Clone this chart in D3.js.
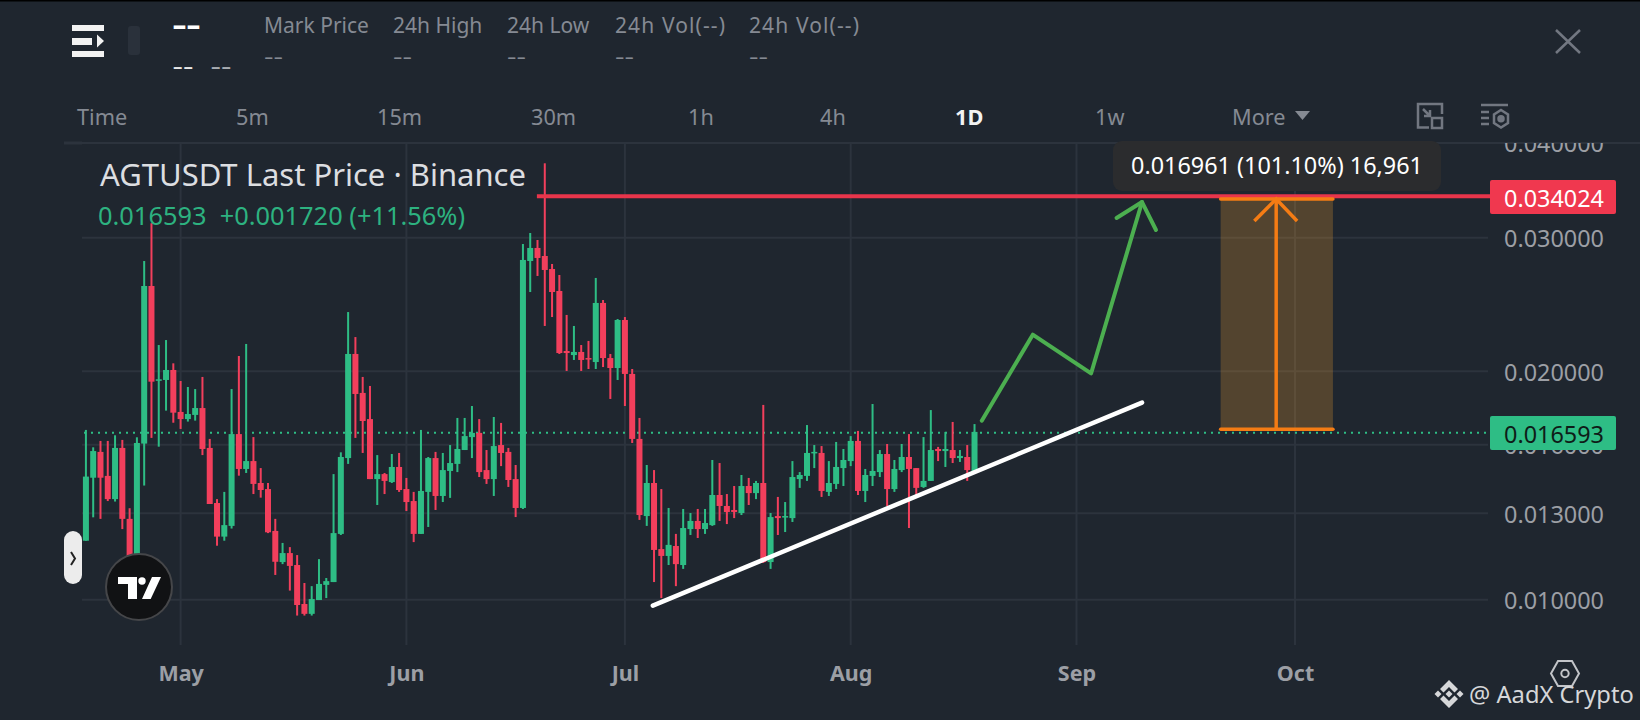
<!DOCTYPE html>
<html lang="en">
<head>
    <meta charset="UTF-8">
    <script src="https://d3js.org/d3.v7.min.js"></script>
    <title>AGTUSDT</title>
    <style>
        body { margin: 0; background: #1f262f; }
        text { font-family: "Noto Sans", sans-serif; }
    </style>
</head>
<body>
<div id="chartContainer"></div>
<script type="text/javascript">
// daily candles, first one is 18 Apr
var firstDay = Date.UTC(2025, 3, 18);
var opens = [
0.01196,0.01448,0.01566,0.01456,0.01357,0.01585,0.01278,0.01117,0.01606,0.02591,0.01944,0.01948,0.02008,0.01768,0.01730,0.01752,0.01789,0.01585,0.01341,0.01211,
0.01251,0.01653,0.01487,0.01523,0.01425,0.01399,0.01232,0.01121,0.01152,0.01111,0.00987,0.00958,0.00999,0.01046,0.01055,0.01221,0.01537,0.02108,0.01873,0.01730,
0.01442,0.01464,0.01429,0.01496,0.01399,0.01349,0.01221,0.01387,0.01537,0.01370,0.01478,0.01510,0.01575,0.01638,0.01659,0.01482,0.01442,0.01599,0.01566,0.01442,
0.01321,0.02795,0.02908,0.02838,0.02728,0.02552,0.02127,0.02101,0.02121,0.02082,0.02057,0.02461,0.02082,0.02020,0.02337,0.01984,0.01629,0.01289,0.01425,0.01166,
0.01142,0.01177,0.01111,0.01239,0.01270,0.01239,0.01254,0.01374,0.01329,0.01313,0.01301,0.01412,0.01382,0.01425,0.01121,0.01289,0.01284,0.01281,0.01442,0.01456,
0.01559,0.01561,0.01387,0.01421,0.01491,0.01523,0.01619,0.01391,0.01456,0.01473,0.01556,0.01399,0.01482,0.01542,0.01491,0.01408,0.01434,0.01580,0.01570,0.01575,
0.01537,0.01542,0.01478];
var highs = [
0.01674,0.01588,0.01619,0.01619,0.01647,0.01624,0.01320,0.01637,0.02795,0.03134,0.02166,0.02199,0.02049,0.01942,0.01907,0.01895,0.01966,0.01629,0.01357,0.01387,
0.01895,0.02095,0.02173,0.01638,0.01491,0.01425,0.01278,0.01188,0.01173,0.01145,0.01052,0.01042,0.01131,0.01068,0.01464,0.01564,0.02394,0.02219,0.01966,0.01913,
0.01551,0.01469,0.01556,0.01561,0.01447,0.01387,0.01674,0.01542,0.01566,0.01561,0.01599,0.01736,0.01736,0.01800,0.01730,0.01575,0.01741,0.01710,0.01585,0.01505,
0.02943,0.03043,0.02979,0.03760,0.02770,0.02679,0.02373,0.02295,0.02166,0.02193,0.02655,0.02483,0.02108,0.02344,0.02358,0.02014,0.01736,0.01505,0.01482,0.01399,
0.01321,0.01221,0.01317,0.01301,0.01317,0.01317,0.01528,0.01514,0.01378,0.01412,0.01460,0.01447,0.01434,0.01806,0.01301,0.01366,0.01345,0.01523,0.01473,0.01699,
0.01599,0.01594,0.01523,0.01614,0.01580,0.01643,0.01669,0.01487,0.01811,0.01575,0.01604,0.01528,0.01604,0.01653,0.01491,0.01638,0.01778,0.01590,0.01664,0.01715,
0.01575,0.01599,0.01704];
var lows = [
0.01196,0.01284,0.01278,0.01349,0.01347,0.01239,0.01105,0.01105,0.01414,0.01634,0.01591,0.01775,0.01711,0.01679,0.01717,0.01722,0.01551,0.01337,0.01178,0.01196,
0.01241,0.01457,0.01469,0.01378,0.01363,0.01224,0.01078,0.01114,0.01028,0.00953,0.00953,0.00953,0.00999,0.01005,0.01055,0.01217,0.01510,0.01634,0.01561,0.01442,
0.01333,0.01378,0.01425,0.01387,0.01309,0.01191,0.01221,0.01247,0.01313,0.01345,0.01362,0.01473,0.01575,0.01537,0.01451,0.01421,0.01370,0.01500,0.01408,0.01285,
0.01317,0.02544,0.02671,0.02295,0.02358,0.02108,0.02002,0.02070,0.02002,0.02014,0.02014,0.02026,0.01839,0.01948,0.01800,0.01609,0.01274,0.01251,0.01055,0.01005,
0.01111,0.01042,0.01098,0.01217,0.01206,0.01221,0.01251,0.01270,0.01258,0.01281,0.01293,0.01333,0.01357,0.01118,0.01098,0.01217,0.01228,0.01266,0.01404,0.01434,
0.01491,0.01366,0.01370,0.01399,0.01412,0.01500,0.01374,0.01345,0.01412,0.01451,0.01329,0.01387,0.01473,0.01243,0.01362,0.01404,0.01434,0.01523,0.01496,0.01514,
0.01519,0.01434,0.01473];
var closes = [
0.01453,0.01570,0.01448,0.01357,0.01585,0.01278,0.01117,0.01609,0.02591,0.01938,0.01952,0.02008,0.01764,0.01730,0.01757,0.01789,0.01580,0.01337,0.01211,0.01254,
0.01653,0.01487,0.01523,0.01421,0.01395,0.01227,0.01122,0.01152,0.01108,0.00984,0.00958,0.01002,0.01049,0.01058,0.01224,0.01542,0.02108,0.01867,0.01720,0.01442,
0.01464,0.01434,0.01496,0.01395,0.01345,0.01221,0.01391,0.01537,0.01370,0.01482,0.01514,0.01580,0.01643,0.01659,0.01473,0.01442,0.01594,0.01561,0.01438,0.01321,
0.02804,0.02908,0.02821,0.02720,0.02544,0.02114,0.02114,0.02121,0.02070,0.02074,0.02461,0.02082,0.02020,0.02337,0.01984,0.01629,0.01293,0.01425,0.01163,0.01142,
0.01181,0.01114,0.01243,0.01270,0.01239,0.01262,0.01374,0.01329,0.01305,0.01305,0.01412,0.01382,0.01425,0.01121,0.01285,0.01281,0.01289,0.01451,0.01460,0.01561,
0.01566,0.01391,0.01425,0.01496,0.01528,0.01619,0.01391,0.01460,0.01478,0.01556,0.01399,0.01487,0.01542,0.01487,0.01404,0.01434,0.01575,0.01570,0.01580,0.01537,
0.01547,0.01482,0.01664];

var priceTicks = [0.01, 0.013, 0.016, 0.02, 0.03, 0.04];
var monthTicks = [Date.UTC(2025,4,1), Date.UTC(2025,5,1), Date.UTC(2025,6,1), Date.UTC(2025,7,1), Date.UTC(2025,8,1), Date.UTC(2025,9,1)];
var monthLabels = ["May", "Jun", "Jul", "Aug", "Sep", "Oct"];
var intervals = ["Time", "5m", "15m", "30m", "1h", "4h", "1D", "1w", "More"];
var statNames = ["Mark Price", "24h High", "24h Low", "24h Vol(--)", "24h Vol(--)"];

var lastPrice = 0.016593, targetPrice = 0.034024;
var measureLow = 0.016776, measureHigh = 0.033737;

// hand drawn things on the chart: [time, price]
var trendLine = [[Date.UTC(2025,6,4,20), 0.00982], [Date.UTC(2025,8,10), 0.01819]];
var greenPath = [[Date.UTC(2025,7,19), 0.017216], [Date.UTC(2025,7,26), 0.02235], [Date.UTC(2025,8,3), 0.01987], [Date.UTC(2025,8,10), 0.03343]];
var greenHead = [[Date.UTC(2025,8,6,12), 0.03185], [Date.UTC(2025,8,10), 0.03343], [Date.UTC(2025,8,11,22), 0.03071]];
var measureLeft = Date.UTC(2025,8,20,19), measureRight = Date.UTC(2025,9,6,5), measureMid = Date.UTC(2025,8,28,10);
var orangeHead = [[Date.UTC(2025,8,25,10), 0.03156], [measureMid, measureHigh], [Date.UTC(2025,9,1,7), 0.03156]];
var targetStart = Date.UTC(2025,5,18,22);

var W = 1640, H = 720;
var plotLeft = 82, plotRight = 1488, plotTop = 143, plotBottom = 645;
var UP = "#2ebd85", DOWN = "#f23f5c", GRID = "#2c333d", AXIS = "#9c9fa5", DIM = "#858a93";
var FONT = "'Noto Sans', sans-serif";

var svg = d3.select("#chartContainer").append("svg")
    .attr("width", W).attr("height", H)
    .style("display", "block");

svg.append("rect").attr("width", W).attr("height", H).attr("fill", "#1f262f");
svg.append("rect").attr("width", W).attr("height", 1.5).attr("fill", "#000");

var x = d3.scaleUtc().domain([monthTicks[0], monthTicks[5]]).range([180.6, 1295]);
var y = d3.scaleLog().domain([0.01, 0.04]).range([599.7, 142.9]);
var line = d3.line().x(function (d) { return x(d[0]); }).y(function (d) { return y(d[1]); });

svg.append("defs").append("clipPath").attr("id", "axisClip")
    .append("rect").attr("x", plotRight).attr("y", plotTop).attr("width", W - plotRight).attr("height", plotBottom - plotTop);

// top rule + grid
svg.append("rect").attr("x", 64).attr("y", 141.5).attr("width", 18).attr("height", 3).attr("fill", GRID);
var grid = svg.append("g").attr("stroke", GRID).attr("stroke-width", 2);
grid.selectAll("line.h").data(priceTicks).enter().append("line")
    .attr("x1", plotLeft).attr("x2", function (d) { return d === 0.04 ? W : plotRight; })
    .attr("y1", function (d) { return y(d); }).attr("y2", function (d) { return y(d); });
grid.selectAll("line.v").data(monthTicks).enter().append("line")
    .attr("x1", function (d) { return x(d); }).attr("x2", function (d) { return x(d); })
    .attr("y1", plotTop).attr("y2", plotBottom);

// price axis, top label is cut by the toolbar
var yAxis = svg.append("g").attr("clip-path", "url(#axisClip)")
    .append("g").attr("transform", "translate(1504,1.5)")
    .call(d3.axisRight(y).tickValues(priceTicks).tickSize(0).tickPadding(0).tickFormat(d3.format(".6f")));
yAxis.select(".domain").remove();
yAxis.selectAll("text").style("font-family", FONT).style("font-size", "23.4px").attr("fill", AXIS);

// month axis
var xAxis = svg.append("g").attr("transform", "translate(0,673)")
    .call(d3.axisBottom(x).tickValues(monthTicks).tickSize(0).tickPadding(0)
        .tickFormat(function (d, i) { return monthLabels[i]; }));
xAxis.select(".domain").remove();
xAxis.selectAll("text").attr("dy", "0.35em").attr("y", 0)
    .style("font-family", FONT).style("font-size", "21.5px").style("font-weight", 700).attr("fill", AXIS);

// last price dotted line
svg.append("line").attr("x1", 84).attr("x2", plotRight + 2)
    .attr("y1", y(lastPrice)).attr("y2", y(lastPrice))
    .attr("stroke", UP).attr("stroke-width", 2).attr("stroke-dasharray", "2 5");

// candles
var days = d3.range(opens.length).map(function (i) { return firstDay + i * 864e5; });
var candles = svg.append("g").selectAll("g").data(days).enter().append("g")
    .attr("fill", function (d, i) { return closes[i] >= opens[i] ? UP : DOWN; });
candles.append("rect")
    .attr("x", function (d) { return x(d) - 1; }).attr("width", 2)
    .attr("y", function (d, i) { return y(highs[i]); })
    .attr("height", function (d, i) { return y(lows[i]) - y(highs[i]); });
candles.append("rect")
    .attr("x", function (d) { return x(d) - 3; }).attr("width", 6)
    .attr("y", function (d, i) { return y(Math.max(opens[i], closes[i])); })
    .attr("height", function (d, i) { return Math.max(1.5, Math.abs(y(opens[i]) - y(closes[i]))); });

// legend
svg.append("text").attr("x", 100).attr("y", 186).attr("fill", "#dcdee1").style("font-size", "31px")
    .text("AGTUSDT Last Price · Binance");
svg.append("text").attr("x", 98).attr("y", 225).attr("fill", "#2db280").style("font-size", "25.4px")
    .style("white-space", "pre")
    .text("0.016593  +0.001720 (+11.56%)");

// target line
svg.append("line").attr("x1", x(targetStart)).attr("x2", plotRight + 2)
    .attr("y1", y(targetPrice)).attr("y2", y(targetPrice))
    .attr("stroke", "#e8354b").attr("stroke-width", 4);

// trend line and projected path
svg.append("path").attr("d", line(trendLine)).attr("fill", "none")
    .attr("stroke", "#fff").attr("stroke-width", 4.5).attr("stroke-linecap", "round");
svg.selectAll("path.green").data([greenPath, greenHead]).enter().append("path")
    .attr("d", line).attr("fill", "none").attr("stroke", "#4caf50").attr("stroke-width", 4)
    .attr("stroke-linecap", "round").attr("stroke-linejoin", "round");

// measure box
svg.append("rect").attr("x", x(measureLeft)).attr("width", x(measureRight) - x(measureLeft))
    .attr("y", y(measureHigh)).attr("height", y(measureLow) - y(measureHigh))
    .attr("fill", "#f0a030").attr("fill-opacity", 0.25);
svg.selectAll("line.edge").data([measureHigh, measureLow]).enter().append("line")
    .attr("x1", x(measureLeft)).attr("x2", x(measureRight))
    .attr("y1", function (d) { return y(d); }).attr("y2", function (d) { return y(d); })
    .attr("stroke", "#f57c14").attr("stroke-width", 3.5).attr("stroke-linecap", "round");
svg.append("line").attr("x1", x(measureMid)).attr("x2", x(measureMid))
    .attr("y1", y(measureLow)).attr("y2", y(measureHigh))
    .attr("stroke", "#f57c14").attr("stroke-width", 3.5);
svg.append("path").attr("d", line(orangeHead)).attr("fill", "none")
    .attr("stroke", "#f57c14").attr("stroke-width", 3.5);

// tooltip
svg.append("rect").attr("x", 1113).attr("y", 141).attr("width", 328).attr("height", 50).attr("rx", 9)
    .attr("fill", "#2b2c2e");
svg.append("text").attr("x", 1277).attr("y", 174).attr("text-anchor", "middle").attr("fill", "#fff")
    .style("font-size", "23.4px").text("0.016961 (101.10%) 16,961");

// price tags
function priceTag(top, fill, textFill, label) {
    svg.append("rect").attr("x", 1490).attr("y", top).attr("width", 126).attr("height", 34).attr("rx", 2).attr("fill", fill);
    svg.append("text").attr("x", 1504).attr("y", top + 26.5).attr("fill", textFill).style("font-size", "23.4px").text(label);
}
priceTag(180, "#f0384f", "#fff", d3.format(".6f")(targetPrice));
priceTag(416, UP, "#0e1c18", d3.format(".6f")(lastPrice));

// toolbar
var menu = svg.append("g").attr("fill", "#f2f2f2");
menu.append("rect").attr("x", 72).attr("y", 25).attr("width", 32).attr("height", 6);
menu.append("rect").attr("x", 72).attr("y", 38).attr("width", 20).attr("height", 7);
menu.append("rect").attr("x", 72).attr("y", 51).attr("width", 32).attr("height", 6);
menu.append("path").attr("d", "M97,34.5 L104,41 L97,47.5 Z");
svg.append("rect").attr("x", 128).attr("y", 26).attr("width", 12).attr("height", 29).attr("rx", 3).attr("fill", "#2a313b");

// the empty "--" values are drawn wider than the font's hyphens
function dashes(px, py, len, size, fill, weight) {
    svg.append("text").attr("x", px).attr("y", py).attr("fill", fill)
        .attr("textLength", len).attr("lengthAdjust", "spacingAndGlyphs")
        .style("font-size", size + "px").style("font-weight", weight).text("--");
}
dashes(172.5, 35, 28, 28, "#fff", 700);
dashes(172.5, 74, 21, 24, "#e8e8e8", 400);
dashes(210.5, 74, 21, 24, "#a8acb2", 400);

var statX = [264, 393, 507, 615, 749];
svg.selectAll("text.statName").data(statNames).enter().append("text")
    .attr("x", function (d, i) { return statX[i]; }).attr("y", 32.5)
    .attr("fill", DIM).style("font-size", "21px")
    .attr("textLength", function (d) { return d.indexOf("Vol") > 0 ? 110 : null; })
    .attr("lengthAdjust", "spacing")
    .text(function (d) { return d; });
statX.forEach(function (sx) { dashes(sx, 63.5, 19, 20, DIM, 400); });

var tabX = [77, 236, 377, 531, 688, 820, 955, 1095, 1232];
svg.selectAll("text.tab").data(intervals).enter().append("text")
    .attr("x", function (d, i) { return tabX[i]; }).attr("y", 124.5)
    .attr("fill", function (d) { return d === "1D" ? "#f2f2f2" : DIM; })
    .style("font-weight", function (d) { return d === "1D" ? 700 : 400; })
    .style("font-size", "21.7px").text(function (d) { return d; });
svg.append("path").attr("d", "M1295,111 L1310,111 L1302.5,120 Z").attr("fill", DIM);

// close and tool icons
var icons = svg.append("g").attr("fill", "none").attr("stroke", "#727781").attr("stroke-width", 2.5);
icons.append("path").attr("d", "M1556,30 L1580,53 M1580,30 L1556,53");
icons.append("path").attr("d", "M1429,127.5 L1418,127.5 L1418,104 L1442,104 L1442,114");
icons.append("rect").attr("x", 1432).attr("y", 118).attr("width", 10).attr("height", 10);
icons.append("path").attr("d", "M1423,109 L1430,116 M1430,110 L1430,116 L1424,116");
icons.append("path").attr("d", "M1481,105 L1508,105 M1481,112 L1489,112 M1481,118 L1489,118 M1481,124 L1489,124");
icons.append("path").attr("d", "M1501,110 L1508,114.5 L1508,123 L1501,127.5 L1494,123 L1494,114.5 Z");
icons.append("circle").attr("cx", 1501).attr("cy", 118.7).attr("r", 2.5).attr("fill", "#727781");

// collapse handle
svg.append("rect").attr("x", 64).attr("y", 531).attr("width", 18).attr("height", 53).attr("rx", 9).attr("fill", "#ececec");
svg.append("path").attr("d", "M71,552 L75,558.5 L71,565").attr("fill", "none").attr("stroke", "#222").attr("stroke-width", 2);

// tradingview badge
svg.append("circle").attr("cx", 139).attr("cy", 587).attr("r", 33).attr("fill", "#111214").attr("stroke", "#454649").attr("stroke-width", 2);
svg.append("path").attr("fill", "#fff").attr("d", "M118,577 L137,577 L137,599 L128,599 L128,584 L118,584 Z M152,577 L161,577 L150.7,599 L142,599 Z");
svg.append("circle").attr("cx", 142).attr("cy", 581).attr("r", 3.7).attr("fill", "#fff");

// settings hexagon
var hex = svg.append("g").attr("fill", "none").attr("stroke", "#c2c4c8").attr("stroke-width", 2);
hex.append("path").attr("d", "M1551,673.5 L1558,661 L1572,661 L1579,673.5 L1572,686 L1558,686 Z");
hex.append("circle").attr("cx", 1565).attr("cy", 673.5).attr("r", 3.7);

// watermark
var mark = svg.append("g").attr("fill", "#d6d7d9");
mark.append("path").attr("d", "M1449,680 l9,9 l-3.5,3.5 l-5.5,-5.5 l-5.5,5.5 l-3.5,-3.5 Z");
mark.append("path").attr("d", "M1449,708 l9,-9 l-3.5,-3.5 l-5.5,5.5 l-5.5,-5.5 l-3.5,3.5 Z");
mark.append("path").attr("d", "M1449,690.5 l3.5,3.5 l-3.5,3.5 l-3.5,-3.5 Z");
mark.append("path").attr("d", "M1438,690.5 l3.5,3.5 l-3.5,3.5 l-3.5,-3.5 Z");
mark.append("path").attr("d", "M1460,690.5 l3.5,3.5 l-3.5,3.5 l-3.5,-3.5 Z");
mark.append("text").attr("x", 1469).attr("y", 703).style("font-size", "23.7px").text("@ AadX Crypto");
</script>
</body>
</html>
